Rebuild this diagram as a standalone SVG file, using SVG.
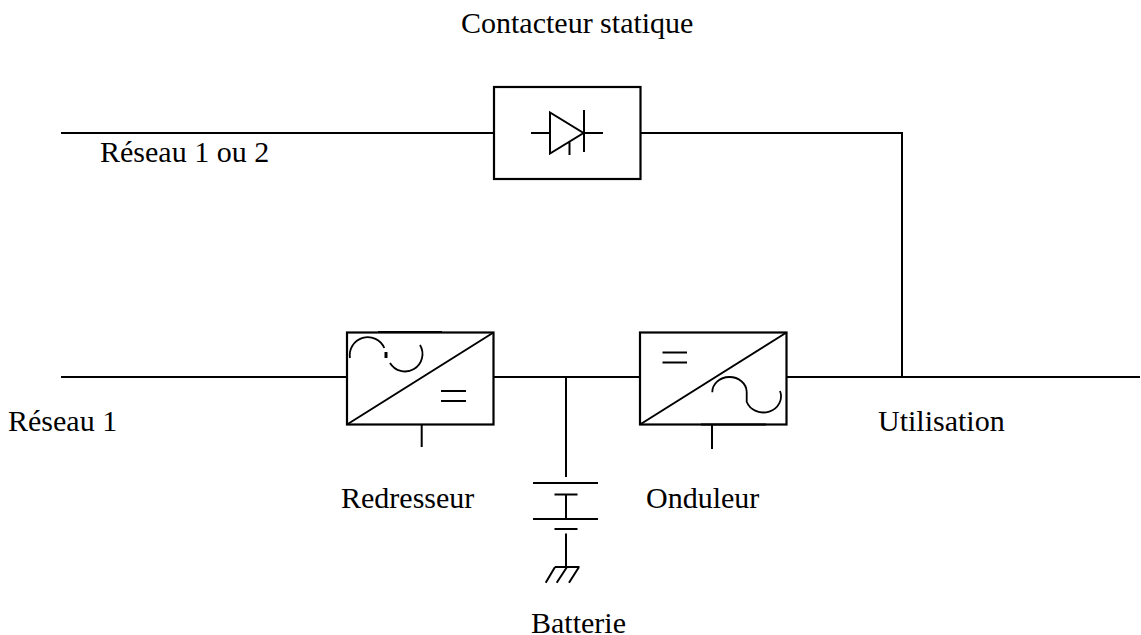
<svg xmlns="http://www.w3.org/2000/svg" width="1141" height="635" viewBox="0 0 1141 635">
<style>
.w{fill:none;stroke:#000;stroke-width:2}
.t{fill:none;stroke:#000;stroke-width:1.8}
.b{fill:#fff;stroke:#000;stroke-width:2.2}
text{font-family:"Liberation Serif","Times New Roman",serif;font-size:30px;fill:#000}
</style>
<rect width="1141" height="635" fill="#fff"/>
<g id="connectors" class="w">
<path d="M61 133H494M640 133H902V377M61 377H347M494 377H640M787 377H1140M566 377V477"/>
<path d="M421.700 424V447M712 425V449"/>
</g>
<g id="contacteur">
<rect class="b" x="494" y="87" width="146.500" height="92"/>
<path class="w" d="M550 112.500V153.500L583.500 133ZM531 133H550M584 110V152M584 133H603M569.500 142V155"/>
<text x="461" y="33">Contacteur statique</text>
</g>
<g id="redresseur">
<rect class="b" x="347" y="332.500" width="146.500" height="92"/>
<path class="w" d="M347 424.500L493.500 332.500M441 391H466M441 401H466"/>
<path class="t" d="M350 358A18 18 0 0 1 384.300 348M390 363A17 17 0 0 0 420 345"/>
<path class="w" d="M378 332H442"/>
<path d="M386 352V358" fill="none" stroke="#000" stroke-width="3"/>
<text x="341" y="508">Redresseur</text>
</g>
<g id="onduleur">
<rect class="b" x="640" y="332.500" width="146.500" height="92"/>
<path class="w" d="M640 424.500L786.500 332.500M662.500 352.500H687M662.500 362.500H687"/>
<path class="t" d="M712.300 392.300A17.200 15 0 0 1 746.700 391.700V401.700A17 15.500 0 0 0 780 391"/>
<path class="w" d="M701 424.500H766"/>
<text x="646" y="508">Onduleur</text>
</g>
<g id="batterie">
<path class="w" d="M533 483H598M554.500 494.500H577.500M533 519H598M554.500 529H577.500M566 494.500V519M566 533.500V567M555 567H579.500M555 567L545.700 582.700M567 567L556.700 582.700M579 567L569 582.700"/>
<text x="531" y="633">Batterie</text>
</g>
<g id="labels">
<text x="100" y="162">Réseau 1 ou 2</text>
<text x="8" y="431">Réseau 1</text>
<text x="878" y="431">Utilisation</text>
</g>
</svg>
